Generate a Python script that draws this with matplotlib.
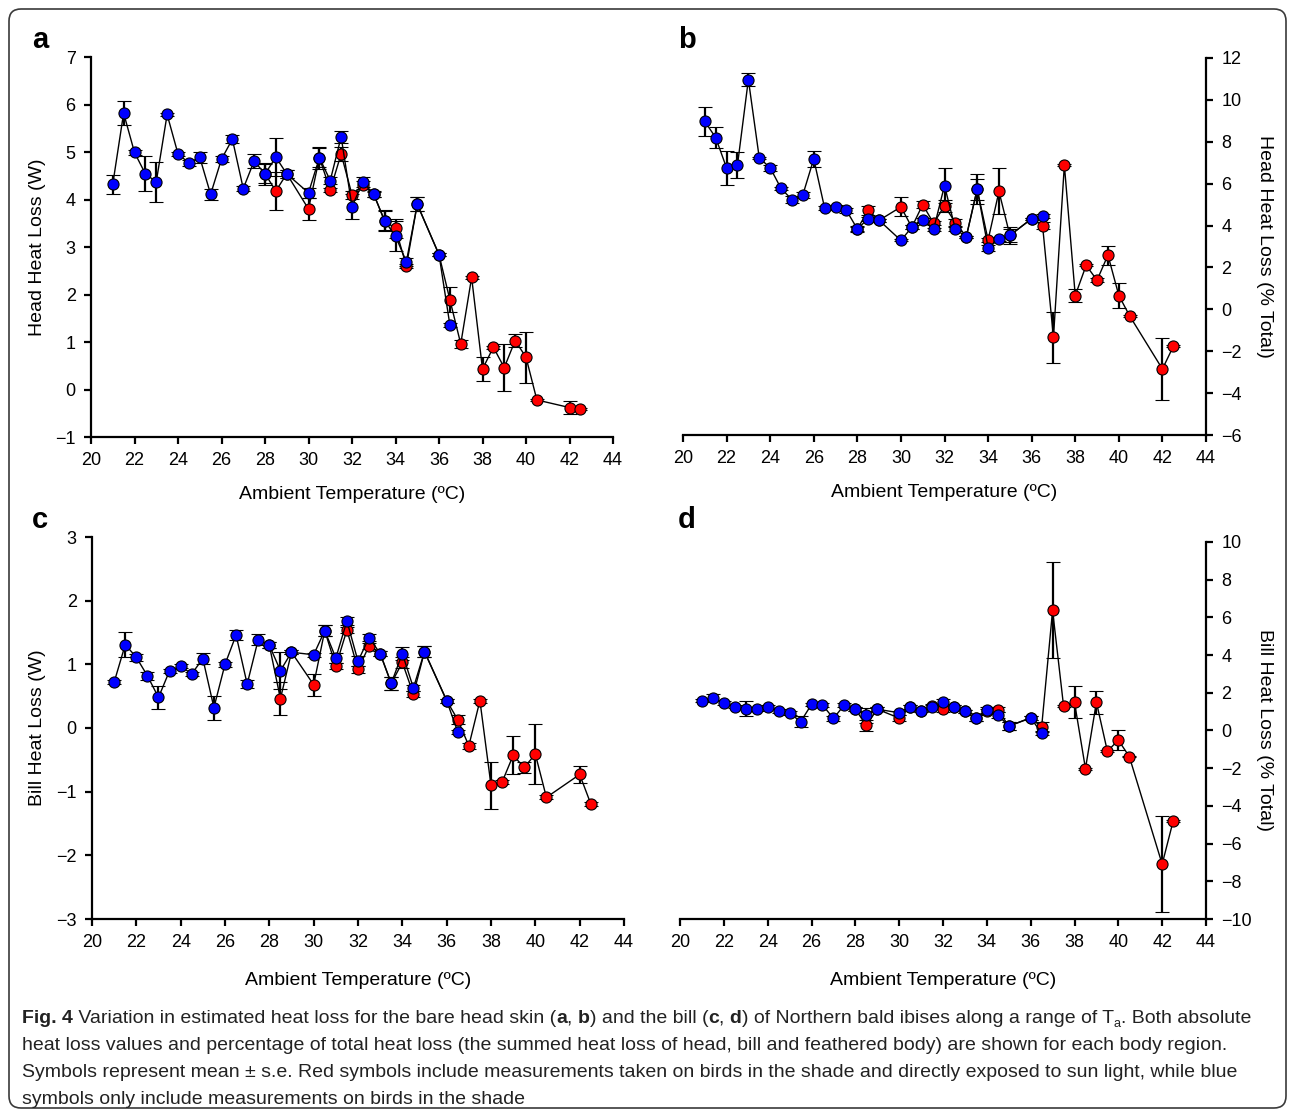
import numpy as np
import matplotlib
matplotlib.use('Agg')
import matplotlib.pyplot as plt
from matplotlib import font_manager
from matplotlib.patches import FancyBboxPatch
from matplotlib.transforms import IdentityTransform

# ---- data ----
x_blue = [21, 21.5, 22, 22.5, 23, 23.5, 24, 24.5, 25, 25.5, 26, 26.5, 27, 27.5, 28,
          28.5, 29, 30, 30.5, 31, 31.5, 32, 32.5, 33, 33.5, 34, 34.5, 35, 36, 36.5]
x_red = [28, 28.5, 29, 30, 30.5, 31, 31.5, 32, 32.5, 33, 33.5, 34, 34.5, 35, 36,
         36.5, 37, 37.5, 38, 38.5, 39, 39.5, 40, 40.5, 42, 42.5]

# a: head heat loss (W)
head_w_blue = [4.32, 5.82, 4.99, 4.54, 4.37, 5.79, 4.96, 4.77, 4.89, 4.11, 4.85, 5.27, 4.23, 4.81, 4.54,
               4.89, 4.54, 4.14, 4.88, 4.40, 5.32, 3.85, 4.37, 4.11, 3.55, 3.23, 2.69, 3.90, 2.84, 1.36]
head_w_blue_se = [0.20, 0.25, 0.06, 0.37, 0.43, 0.03, 0.05, 0.06, 0.12, 0.12, 0.06, 0.08, 0.06, 0.15, 0.23,
                  0.40, 0.08, 0.10, 0.23, 0.08, 0.12, 0.27, 0.10, 0.06, 0.22, 0.32, 0.08, 0.15, 0.03, 0.05]
head_w_red = [4.54, 4.18, 4.54, 3.80, 4.88, 4.20, 4.96, 4.10, 4.30, 4.11, 3.55, 3.39, 2.60, 3.90, 2.84,
              1.89, 0.96, 2.36, 0.43, 0.89, 0.46, 1.03, 0.68, -0.22, -0.38, -0.41]
head_w_red_se = [0.20, 0.40, 0.08, 0.24, 0.20, 0.05, 0.15, 0.08, 0.08, 0.05, 0.20, 0.19, 0.05, 0.15, 0.03,
                 0.26, 0.08, 0.03, 0.26, 0.03, 0.50, 0.13, 0.54, 0.03, 0.13, 0.03]

# b: head heat loss (% total)
head_pct_blue = [8.97, 8.20, 6.75, 6.89, 10.97, 7.23, 6.76, 5.77, 5.24, 5.47, 7.18, 4.83, 4.88, 4.72, 3.84,
                 4.33, 4.25, 3.29, 3.92, 4.27, 3.82, 5.91, 3.82, 3.47, 5.74, 2.94, 3.34, 3.53, 4.33, 4.45]
head_pct_blue_se = [0.70, 0.50, 0.80, 0.60, 0.32, 0.05, 0.15, 0.08, 0.15, 0.15, 0.40, 0.08, 0.08, 0.10, 0.15,
                    0.10, 0.08, 0.05, 0.10, 0.10, 0.08, 0.85, 0.10, 0.05, 0.70, 0.15, 0.10, 0.40, 0.05, 0.10]
head_pct_red = [3.84, 4.72, 4.25, 4.89, 3.92, 5.00, 4.11, 4.94, 4.14, 3.47, 5.74, 3.31, 5.63, 3.53, 4.33,
                4.00, -1.34, 6.89, 0.66, 2.10, 1.39, 2.59, 0.66, -0.32, -2.85, -1.77]
head_pct_red_se = [0.10, 0.20, 0.08, 0.45, 0.10, 0.15, 0.10, 0.30, 0.15, 0.05, 0.50, 0.10, 1.10, 0.30, 0.05,
                   0.15, 1.22, 0.05, 0.30, 0.05, 0.10, 0.45, 0.60, 0.05, 1.50, 0.05]

# c: bill heat loss (W)
bill_w_blue = [0.72, 1.31, 1.11, 0.82, 0.48, 0.90, 0.97, 0.85, 1.09, 0.32, 1.00, 1.46, 0.69, 1.39, 1.30,
               0.90, 1.19, 1.15, 1.53, 1.10, 1.68, 1.05, 1.42, 1.17, 0.70, 1.17, 0.63, 1.20, 0.43, -0.06]
bill_w_blue_se = [0.03, 0.20, 0.05, 0.06, 0.18, 0.03, 0.03, 0.03, 0.09, 0.19, 0.04, 0.08, 0.06, 0.09, 0.05,
                  0.29, 0.03, 0.03, 0.09, 0.08, 0.06, 0.08, 0.05, 0.04, 0.10, 0.10, 0.05, 0.09, 0.03, 0.03]
bill_w_red = [1.30, 0.46, 1.19, 0.68, 1.53, 0.97, 1.54, 0.92, 1.29, 1.17, 0.70, 1.03, 0.53, 1.20, 0.43,
              0.13, -0.28, 0.43, -0.90, -0.85, -0.43, -0.62, -0.41, -1.09, -0.73, -1.19]
bill_w_red_se = [0.05, 0.26, 0.03, 0.17, 0.09, 0.05, 0.05, 0.05, 0.05, 0.04, 0.10, 0.08, 0.05, 0.09, 0.03,
                 0.07, 0.05, 0.03, 0.37, 0.03, 0.30, 0.08, 0.47, 0.03, 0.14, 0.03]

# d: bill heat loss (% total)
bill_pct_blue = [1.59, 1.75, 1.47, 1.27, 1.15, 1.15, 1.27, 1.05, 0.94, 0.46, 1.38, 1.36, 0.64, 1.36, 1.13,
                 0.80, 1.13, 0.94, 1.24, 1.06, 1.24, 1.51, 1.26, 1.01, 0.66, 1.10, 0.83, 0.23, 0.67, -0.14]
bill_pct_blue_se = [0.10, 0.20, 0.10, 0.10, 0.40, 0.10, 0.10, 0.10, 0.10, 0.30, 0.10, 0.10, 0.15, 0.10, 0.10,
                    0.40, 0.10, 0.10, 0.10, 0.10, 0.10, 0.15, 0.10, 0.10, 0.15, 0.15, 0.15, 0.20, 0.10, 0.10]
bill_pct_red = [1.13, 0.27, 1.13, 0.66, 1.24, 1.06, 1.30, 1.15, 1.26, 1.01, 0.66, 1.01, 1.11, 0.23, 0.67,
                0.18, 6.37, 1.31, 1.50, -2.02, 1.50, -1.10, -0.51, -1.38, -7.09, -4.81]
bill_pct_red_se = [0.10, 0.30, 0.10, 0.15, 0.10, 0.10, 0.10, 0.15, 0.10, 0.10, 0.15, 0.15, 0.15, 0.20, 0.10,
                   0.25, 2.55, 0.05, 0.84, 0.05, 0.62, 0.05, 0.53, 0.05, 2.55, 0.05]

x_ticks = np.arange(20, 45, 2)
x_label = 'Ambient Temperature (ºC)'

W, H = 1290, 1113
plt.rcParams['font.family'] = ['Liberation Sans', 'DejaVu Sans']
fig = plt.figure(figsize=(W / 100, H / 100), dpi=100)


def px_axes(left, right, top, bottom):
    return fig.add_axes([left / W, 1 - bottom / H, (right - left) / W, (bottom - top) / H])


def setup_ax(ax, ylim, yticks, ylabel, label_x, side='left', xlabelpad=12):
    ax.set_xlim(20, 44)
    ax.set_ylim(*ylim)
    ax.set_xticks(x_ticks)
    ax.set_yticks(yticks)
    for s in ['top', 'left', 'right']:
        ax.spines[s].set_visible(False)
    ax.spines[side].set_visible(True)
    for s in ['bottom', side]:
        ax.spines[s].set_linewidth(1.6)
    if side == 'right':
        ax.yaxis.tick_right()
        ax.yaxis.set_label_position('right')
        ax.set_ylabel(ylabel, fontsize=14, rotation=270)
    else:
        ax.set_ylabel(ylabel, fontsize=14)
    ax.yaxis.label.set_va('center')
    ax.yaxis.label.set_ha('center')
    # put the label centre at a fixed pixel column
    bb = ax.get_position()
    ax.yaxis.set_label_coords((label_x / W - bb.x0) / bb.width, 0.5)
    ax.tick_params(direction='out', length=5, width=1.6, labelsize=13, pad=6)
    ax.set_xlabel(x_label, fontsize=14, labelpad=xlabelpad)


def plot_series(ax, x, y, se, color):
    ax.errorbar(x, y, yerr=se, fmt='-o', color='black', lw=1.0,
                ecolor='black', elinewidth=1.6, capsize=5, capthick=1.6,
                markersize=8, markerfacecolor=color, markeredgecolor='black',
                markeredgewidth=0.8, zorder=3)


ax_a = px_axes(91, 613, 57, 437)
ax_b = px_axes(683, 1206, 58, 435)
ax_c = px_axes(92, 624, 537, 919)
ax_d = px_axes(680, 1206, 542, 919)

setup_ax(ax_a, (-1, 7), range(-1, 8), 'Head Heat Loss (W)', 38)
setup_ax(ax_b, (-6, 12), range(-6, 13, 2), 'Head Heat Loss (% Total)', 1265, side='right')
setup_ax(ax_c, (-3, 3), range(-3, 4), 'Bill Heat Loss (W)', 38, xlabelpad=15)
setup_ax(ax_d, (-10, 10), range(-10, 11, 2), 'Bill Heat Loss (% Total)', 1265, side='right',
         xlabelpad=15)

plot_series(ax_a, x_red, head_w_red, head_w_red_se, '#ff0000')
plot_series(ax_a, x_blue, head_w_blue, head_w_blue_se, '#0000ff')
plot_series(ax_b, x_red, head_pct_red, head_pct_red_se, '#ff0000')
plot_series(ax_b, x_blue, head_pct_blue, head_pct_blue_se, '#0000ff')
plot_series(ax_c, x_red, bill_w_red, bill_w_red_se, '#ff0000')
plot_series(ax_c, x_blue, bill_w_blue, bill_w_blue_se, '#0000ff')
plot_series(ax_d, x_red, bill_pct_red, bill_pct_red_se, '#ff0000')
plot_series(ax_d, x_blue, bill_pct_blue, bill_pct_blue_se, '#0000ff')

for letter, (px, py) in zip('abcd', [(32, 40), (678, 40), (32, 520), (678, 520)]):
    fig.text(px / W, 1 - py / H, letter, fontsize=21, fontweight='bold',
             va='center', ha='left')

# outer rounded frame
frame = FancyBboxPatch((9, 5), 1277, 1099, boxstyle='round,pad=0,rounding_size=12',
                       transform=IdentityTransform(), fill=False, edgecolor='#3a3a3a', lw=1.2)
fig.patches.append(frame)

# caption, drawn run by run so bold parts and the subscript line up
names = {f.name for f in font_manager.fontManager.ttflist}
cap_font = 'Liberation Sans Narrow' if 'Liberation Sans Narrow' in names else 'Liberation Sans'
cap_size = 14.0 if cap_font == 'Liberation Sans' else 16.5
renderer = fig.canvas.get_renderer()


def run_width(s, size, weight):
    t1 = fig.text(0, 0, 'X' + s + 'X', fontsize=size, fontweight=weight, family=cap_font)
    t2 = fig.text(0, 0, 'XX', fontsize=size, fontweight=weight, family=cap_font)
    w = t1.get_window_extent(renderer).width - t2.get_window_extent(renderer).width
    t1.remove()
    t2.remove()
    return w


def draw_line(x0, y0, runs):
    x = x0
    for s, weight, sub in runs:
        size = cap_size * 0.65 if sub else cap_size
        dy = -4 if sub else 0
        fig.text(x / W, 1 - (y0 - dy) / H, s, fontsize=size, fontweight=weight,
                 family=cap_font, va='baseline', ha='left', color='#222222')
        x += run_width(s, size, weight)


n, b = 'normal', 'bold'
caption = [
    [('Fig. 4', b, False), (' Variation in estimated heat loss for the bare head skin (', n, False),
     ('a', b, False), (', ', n, False), ('b', b, False), (') and the bill (', n, False),
     ('c', b, False), (', ', n, False), ('d', b, False),
     (') of Northern bald ibises along a range of T', n, False), ('a', n, True),
     ('. Both absolute', n, False)],
    [('heat loss values and percentage of total heat loss (the summed heat loss of head, bill '
      'and feathered body) are shown for each body region.', n, False)],
    [('Symbols represent mean ± s.e. Red symbols include measurements taken on birds in the shade '
      'and directly exposed to sun light, while blue', n, False)],
    [('symbols only include measurements on birds in the shade', n, False)],
]
for i, runs in enumerate(caption):
    draw_line(22, 1023 + i * 27, runs)

fig.savefig('out.png', dpi=100)
